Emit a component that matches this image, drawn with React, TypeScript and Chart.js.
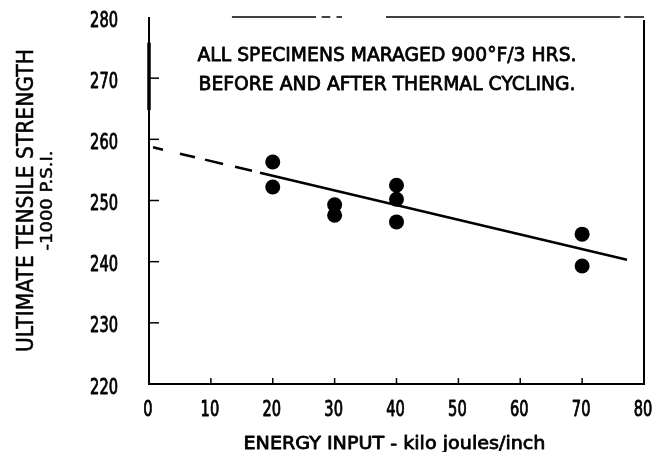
import { useEffect, useRef } from "react";
import { Chart, registerables } from "chart.js";

Chart.register(...registerables);

// Measured specimens: energy input (kJ/inch) vs. ultimate tensile strength (1000 psi)
const energyInput = [20, 20, 30, 30, 40, 40, 40, 70, 70];
const tensileStrength = [256.3, 252.2, 249.3, 247.6, 252.5, 250.2, 246.5, 244.5, 239.3];

// Fitted trend line: vertices along the straight fit; dashed near the origin
const trendEnergy = [0.65, 2.26, 5.01, 7.43, 9.05, 11.96, 13.9, 16.65, 17.94, 77.25];
const trendStrength = [258.7, 258.31, 257.65, 257.07, 256.68, 255.98, 255.52, 254.86, 254.55, 240.3];

const energyTicks = [0, 10, 20, 30, 40, 50, 60, 70, 80];
const strengthTicks = [220, 230, 240, 250, 260, 270, 280];

const xTitle = "ENERGY INPUT - kilo joules/inch";
const yTitle = ["ULTIMATE TENSILE STRENGTH", "-1000 P.S.I."];
const noteLines = ["ALL SPECIMENS MARAGED 900\u00B0F/3 HRS.", "BEFORE AND AFTER THERMAL CYCLING."];

const FONT = '"DejaVu Sans", "Liberation Sans", sans-serif';
const INK = "#000";

// Draws text squeezed horizontally to a given width (narrow lettering)
function fitText(
  ctx: CanvasRenderingContext2D,
  text: string,
  cx: number,
  cy: number,
  width: number,
  size: number,
  rotate = false,
  align: "center" | "right" = "center",
  heavy = 0.8
) {
  ctx.save();
  ctx.translate(cx, cy);
  if (rotate) ctx.rotate(-Math.PI / 2);
  ctx.font = `${size}px ${FONT}`;
  ctx.textAlign = align;
  ctx.textBaseline = "alphabetic";
  const w = ctx.measureText(text).width;
  ctx.scale(width / w, 1);
  ctx.fillStyle = INK;
  ctx.strokeStyle = INK;
  ctx.lineWidth = heavy;
  ctx.lineJoin = "round";
  // baseline placed so that capitals are centred on cy
  const by = size * 0.36;
  ctx.fillText(text, 0, by);
  if (heavy > 0) ctx.strokeText(text, 0, by);
  ctx.restore();
}

// Frame, inward tick marks, tick labels, titles and the note text
const framePlugin = {
  id: "frame",
  afterDraw(chart: any) {
    const { ctx, chartArea } = chart;
    const xs = chart.scales.x;
    const ys = chart.scales.y;
    const { left, right, top, bottom } = chartArea;
    ctx.save();
    ctx.strokeStyle = INK;
    ctx.lineCap = "butt";

    const line = (x1: number, y1: number, x2: number, y2: number, w: number) => {
      ctx.lineWidth = w;
      ctx.beginPath();
      ctx.moveTo(x1, y1);
      ctx.lineTo(x2, y2);
      ctx.stroke();
    };

    // left axis (heavier in its upper part)
    line(left, top, left, bottom + 1, 2);
    line(left, ys.getPixelForValue(275.8), left, ys.getPixelForValue(264.8), 3.5);
    // bottom axis
    line(left, bottom, right + 1, bottom, 2);
    // right border
    line(right, top + 3, right, bottom + 1, 2);
    // top border, broken in places
    const topRuns = [
      [13.4, 27],
      [27.9, 29.3],
      [30.3, 31.2],
      [38.3, 76.2],
      [76.8, 80],
    ];
    topRuns.forEach(([a, b]) => line(xs.getPixelForValue(a), top, xs.getPixelForValue(b), top, 1.5));

    // inward ticks
    strengthTicks.slice(1, -1).forEach((v) => {
      const y = ys.getPixelForValue(v);
      line(left, y, left + 10, y, 1.5);
    });
    energyTicks.slice(1, -1).forEach((v) => {
      const x = xs.getPixelForValue(v);
      line(x, bottom, x, bottom - 6, 1.5);
    });
    ctx.restore();

    // tick labels in narrow lettering
    strengthTicks.forEach((v) => {
      const s = String(v);
      fitText(ctx, s, left - 31, ys.getPixelForValue(v) + 2, s.length * 9.3, 21, false, "right", 0.9);
    });
    energyTicks.forEach((v) => {
      const s = String(v);
      fitText(ctx, s, xs.getPixelForValue(v) - 1, 408, s.length * 9.3, 21, false, "center", 0.9);
    });

    // axis titles
    const midY = (top + bottom) / 2;
    fitText(ctx, yTitle[0], 25, midY, 303, 23, true, "center", 0.5);
    fitText(ctx, yTitle[1], 47, midY, 100, 15, true, "center", 0.5);
    fitText(ctx, xTitle, (left + right) / 2 - 2, 443, 302, 18, false, "center", 0.8);

    // note
    fitText(ctx, noteLines[0], 387, 54, 379, 20, false, "center", 0.8);
    fitText(ctx, noteLines[1], 387, 83, 377, 20, false, "center", 0.8);
  },
};

export default function App() {
  const canvasRef = useRef<HTMLCanvasElement | null>(null);

  useEffect(() => {
    if (!canvasRef.current) return;
    const chart = new Chart(canvasRef.current, {
      type: "scatter",
      data: {
        datasets: [
          {
            label: "Specimens",
            data: energyInput.map((x, i) => ({ x, y: tensileStrength[i] })),
            backgroundColor: INK,
            borderWidth: 0,
            pointRadius: 7.5,
            pointHoverRadius: 7.5,
          },
          {
            type: "line",
            label: "Trend",
            data: trendEnergy.map((x, i) => ({ x, y: trendStrength[i] })),
            borderColor: INK,
            borderWidth: 2.5,
            pointRadius: 0,
            showLine: true,
            fill: false,
            // every other segment near the origin is left blank, giving the dashes
            segment: {
              borderColor: (c: any) => (c.p0DataIndex % 2 === 1 ? "rgba(0,0,0,0)" : INK),
            },
          } as any,
        ],
      },
      options: {
        animation: false,
        responsive: true,
        maintainAspectRatio: false,
        devicePixelRatio: 1,
        layout: { padding: { top: 17, right: 15, left: 0, bottom: 0 } },
        plugins: { legend: { display: false }, tooltip: { enabled: false } },
        scales: {
          x: {
            type: "linear",
            min: 0,
            max: 80,
            afterBuildTicks: (s: any) => {
              s.ticks = energyTicks.map((value) => ({ value }));
            },
            afterFit: (s: any) => {
              s.height = 68;
            },
            grid: { display: false, drawTicks: false },
            border: { display: false },
            ticks: { display: false },
          },
          y: {
            type: "linear",
            min: 220,
            max: 280,
            afterBuildTicks: (s: any) => {
              s.ticks = strengthTicks.map((value) => ({ value }));
            },
            afterFit: (s: any) => {
              s.width = 149;
            },
            grid: { display: false, drawTicks: false },
            border: { display: false },
            ticks: { display: false },
          },
        },
      },
      plugins: [framePlugin],
    });
    return () => chart.destroy();
  }, []);

  return (
    <div style={{ position: "fixed", left: 0, top: 0, width: 659, height: 452, background: "#fff" }}>
      <canvas ref={canvasRef} />
    </div>
  );
}
